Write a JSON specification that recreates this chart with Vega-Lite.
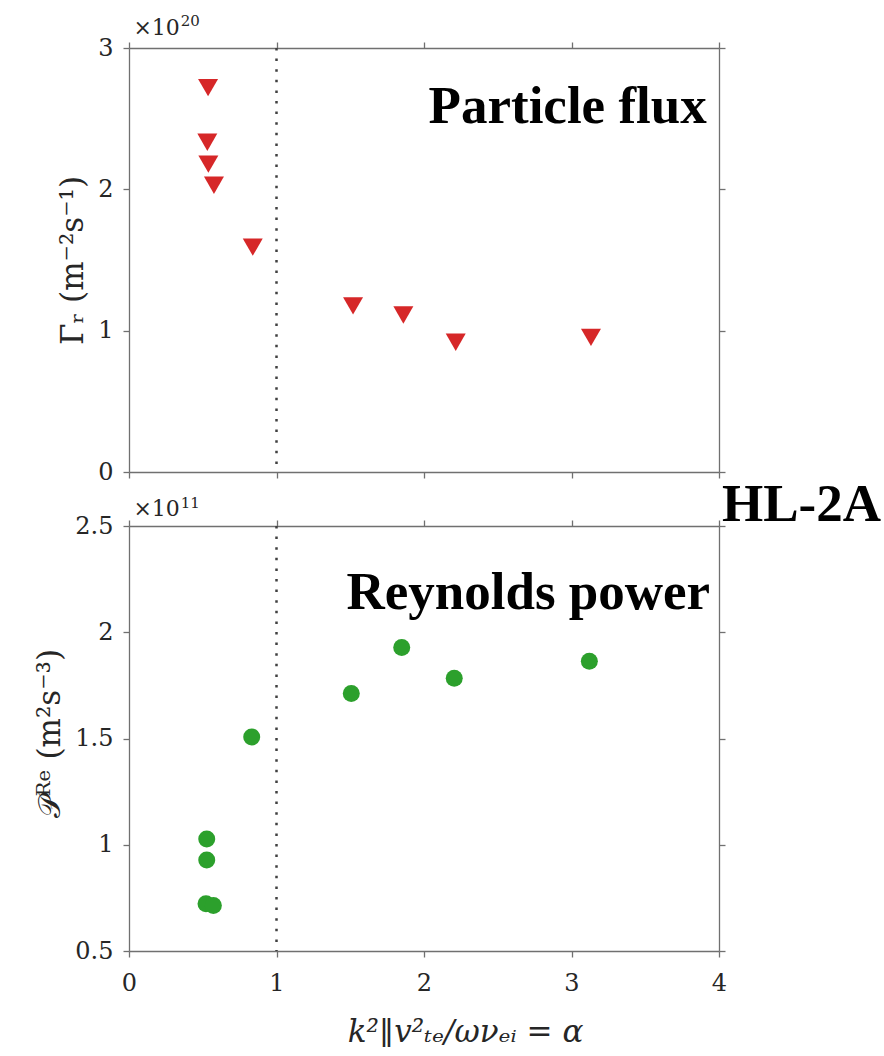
{
  "$schema": "https://vega.github.io/schema/vega-lite/v6.json",
  "background": "white",
  "padding": {"left": 34, "top": 13, "right": 0, "bottom": 0},
  "spacing": 54,
  "bounds": "flush",
  "config": {
    "view": {"stroke": null},
    "axis": {
      "grid": false,
      "domainColor": "#707070",
      "tickColor": "#707070",
      "domainWidth": 1.3,
      "tickWidth": 1.3,
      "tickSize": 6,
      "labelColor": "#262626",
      "labelFont": "DejaVu Serif",
      "labelFontSize": 24,
      "labelFlush": false,
      "titleFont": "DejaVu Serif",
      "titleFontSize": 31,
      "titleFontWeight": "normal",
      "titleColor": "#262626"
    }
  },
  "datasets": {
    "flux": [
      {"alpha": 0.536, "flux": 2.720},
      {"alpha": 0.531, "flux": 2.333},
      {"alpha": 0.538, "flux": 2.178},
      {"alpha": 0.576, "flux": 2.029},
      {"alpha": 0.839, "flux": 1.591},
      {"alpha": 1.519, "flux": 1.175},
      {"alpha": 1.860, "flux": 1.111},
      {"alpha": 2.215, "flux": 0.918},
      {"alpha": 3.132, "flux": 0.952}
    ],
    "power": [
      {"alpha": 0.527, "power": 1.027},
      {"alpha": 0.527, "power": 0.928},
      {"alpha": 0.522, "power": 0.722},
      {"alpha": 0.572, "power": 0.714},
      {"alpha": 0.832, "power": 1.507},
      {"alpha": 1.507, "power": 1.712},
      {"alpha": 1.849, "power": 1.928},
      {"alpha": 2.205, "power": 1.783},
      {"alpha": 3.121, "power": 1.864}
    ],
    "marker": [{"alpha": 1}],
    "topBig": [{"alpha": 3.917, "value": 2.47, "label": "Particle flux"}],
    "topExp": [{"alpha": 0.03, "value": 3.092, "label": "×10"}],
    "topPow": [{"alpha": 0.35, "value": 3.156, "label": "20"}],
    "botBig": [{"alpha": 3.94, "value": 2.108, "label": "Reynolds power"}],
    "botTag": [{"alpha": 4.02, "value": 2.524, "label": "HL-2A"}],
    "botExp": [{"alpha": 0.03, "value": 2.545, "label": "×10"}],
    "botPow": [{"alpha": 0.35, "value": 2.587, "label": "11"}]
  },
  "vconcat": [
    {
      "width": 590,
      "height": 424,
      "resolve": {"axis": {"x": "independent", "y": "independent"}},
      "layer": [
        {
          "data": {"name": "marker"},
          "mark": {"type": "rule", "color": "#404040", "strokeWidth": 2.5, "strokeDash": [2.5, 8.1]},
          "encoding": {
            "x": {"field": "alpha", "type": "quantitative", "scale": {"domain": [0, 4], "nice": false, "zero": false}, "axis": null}
          }
        },
        {
          "data": {"name": "flux"},
          "mark": {"type": "point", "shape": "triangle-down", "filled": true, "size": 400, "color": "#d62728", "opacity": 1, "strokeWidth": 0},
          "encoding": {
            "x": {"field": "alpha", "type": "quantitative", "scale": {"domain": [0, 4], "nice": false, "zero": false},
                  "axis": {"orient": "bottom", "values": [0, 1, 2, 3, 4], "labels": false, "title": null}},
            "y": {"field": "flux", "type": "quantitative", "scale": {"domain": [0, 3], "nice": false, "zero": false},
                  "axis": {"orient": "left", "values": [0, 1, 2, 3], "format": "~g", "labelPadding": 10,
                           "title": "Γᵣ (m⁻²s⁻¹)", "titleX": -47, "titleY": 212, "titleBaseline": "alphabetic"}}
          }
        },
        {
          "data": {"name": "topBig"},
          "mark": {"type": "text", "font": "Liberation Serif", "fontWeight": "bold", "fontSize": 53, "align": "right", "baseline": "alphabetic", "color": "black"},
          "encoding": {
            "x": {"field": "alpha", "type": "quantitative", "scale": {"domain": [0, 4], "nice": false, "zero": false},
                  "axis": {"orient": "top", "values": [0, 1, 2, 3, 4], "labels": false, "title": null}},
            "y": {"field": "value", "type": "quantitative", "scale": {"domain": [0, 3], "nice": false, "zero": false},
                  "axis": {"orient": "right", "values": [0, 1, 2, 3], "labels": false, "title": null}},
            "text": {"field": "label"}
          }
        },
        {
          "data": {"name": "topExp"},
          "mark": {"type": "text", "font": "DejaVu Serif", "fontSize": 22, "align": "left", "baseline": "alphabetic", "color": "#262626"},
          "encoding": {
            "x": {"field": "alpha", "type": "quantitative", "axis": null},
            "y": {"field": "value", "type": "quantitative", "axis": null},
            "text": {"field": "label"}
          }
        },
        {
          "data": {"name": "topPow"},
          "mark": {"type": "text", "font": "DejaVu Serif", "fontSize": 15, "align": "left", "baseline": "alphabetic", "color": "#262626"},
          "encoding": {
            "x": {"field": "alpha", "type": "quantitative", "axis": null},
            "y": {"field": "value", "type": "quantitative", "axis": null},
            "text": {"field": "label"}
          }
        }
      ]
    },
    {
      "width": 590,
      "height": 425,
      "resolve": {"axis": {"x": "independent", "y": "independent"}},
      "layer": [
        {
          "data": {"name": "marker"},
          "mark": {"type": "rule", "color": "#404040", "strokeWidth": 2.5, "strokeDash": [2.5, 8.1]},
          "encoding": {
            "x": {"field": "alpha", "type": "quantitative", "scale": {"domain": [0, 4], "nice": false, "zero": false}, "axis": null}
          }
        },
        {
          "data": {"name": "power"},
          "mark": {"type": "point", "shape": "circle", "filled": true, "size": 289, "color": "#2ca02c", "opacity": 1, "strokeWidth": 0},
          "encoding": {
            "x": {"field": "alpha", "type": "quantitative", "scale": {"domain": [0, 4], "nice": false, "zero": false},
                  "axis": {"orient": "bottom", "values": [0, 1, 2, 3, 4], "format": "~g", "labelPadding": 14,
                           "title": "k²‖v²ₜₑ/ωνₑᵢ = α", "titleFontStyle": "italic", "titleX": 336, "titleY": 90, "titleBaseline": "alphabetic"}},
            "y": {"field": "power", "type": "quantitative", "scale": {"domain": [0.5, 2.5], "nice": false, "zero": false},
                  "axis": {"orient": "left", "values": [0.5, 1, 1.5, 2, 2.5], "format": "~g", "labelPadding": 10,
                           "title": "𝒫ᴿᵉ (m²s⁻³)", "titleX": -70, "titleY": 207, "titleBaseline": "alphabetic"}}
          }
        },
        {
          "data": {"name": "botBig"},
          "mark": {"type": "text", "font": "Liberation Serif", "fontWeight": "bold", "fontSize": 53, "align": "right", "baseline": "alphabetic", "color": "black"},
          "encoding": {
            "x": {"field": "alpha", "type": "quantitative", "scale": {"domain": [0, 4], "nice": false, "zero": false},
                  "axis": {"orient": "top", "values": [0, 1, 2, 3, 4], "labels": false, "title": null}},
            "y": {"field": "value", "type": "quantitative", "scale": {"domain": [0.5, 2.5], "nice": false, "zero": false},
                  "axis": {"orient": "right", "values": [0.5, 1, 1.5, 2, 2.5], "labels": false, "title": null}},
            "text": {"field": "label"}
          }
        },
        {
          "data": {"name": "botTag"},
          "mark": {"type": "text", "font": "Liberation Serif", "fontWeight": "bold", "fontSize": 53, "align": "left", "baseline": "alphabetic", "color": "black"},
          "encoding": {
            "x": {"field": "alpha", "type": "quantitative", "axis": null},
            "y": {"field": "value", "type": "quantitative", "axis": null},
            "text": {"field": "label"}
          }
        },
        {
          "data": {"name": "botExp"},
          "mark": {"type": "text", "font": "DejaVu Serif", "fontSize": 22, "align": "left", "baseline": "alphabetic", "color": "#262626"},
          "encoding": {
            "x": {"field": "alpha", "type": "quantitative", "axis": null},
            "y": {"field": "value", "type": "quantitative", "axis": null},
            "text": {"field": "label"}
          }
        },
        {
          "data": {"name": "botPow"},
          "mark": {"type": "text", "font": "DejaVu Serif", "fontSize": 15, "align": "left", "baseline": "alphabetic", "color": "#262626"},
          "encoding": {
            "x": {"field": "alpha", "type": "quantitative", "axis": null},
            "y": {"field": "value", "type": "quantitative", "axis": null},
            "text": {"field": "label"}
          }
        }
      ]
    }
  ]
}
